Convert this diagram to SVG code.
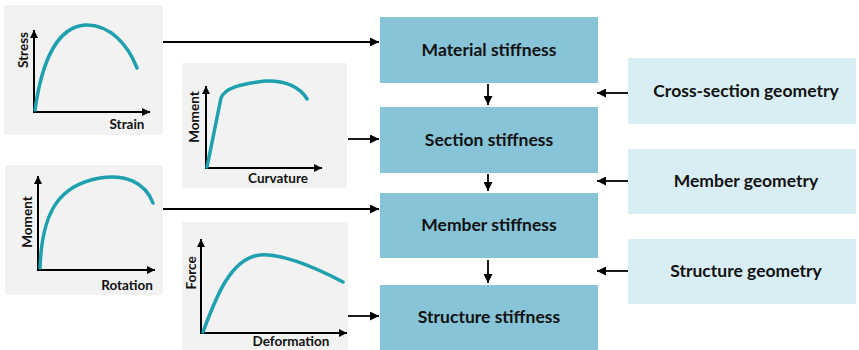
<svg xmlns="http://www.w3.org/2000/svg" width="859" height="350" viewBox="0 0 859 350">
<defs>
<marker id="ah" viewBox="0 0 10 10" refX="10" refY="5" markerWidth="10" markerHeight="9" markerUnits="userSpaceOnUse" orient="auto"><path d="M0,0 L10,5 L0,10 Z" fill="#000"/></marker>
<marker id="ax" viewBox="0 0 10 10" refX="10" refY="5" markerWidth="10" markerHeight="8" markerUnits="userSpaceOnUse" orient="auto"><path d="M0,0 L10,5 L0,10 Z" fill="#000"/></marker>
</defs>
<style>
.panel{fill:#f2f2f2}
.axis{stroke:#000;stroke-width:2;fill:none}
.curve{stroke:#1ea0ae;stroke-width:3.5;fill:none;stroke-linecap:round}
.al{font-family:Lato,"Open Sans",sans-serif;font-weight:700;font-size:13.5px;fill:#111}
.main{fill:#88c4d7}
.light{fill:#d9eef4}
.bt{font-family:Lato,"Open Sans",sans-serif;font-weight:700;font-size:17.5px;fill:#111;text-anchor:middle}
.con{stroke:#000;stroke-width:1.8;fill:none}
</style>
<g id="chart-stress-strain">
<rect class="panel" x="4" y="5" width="159" height="130"/>
<line class="axis" x1="34" y1="112" x2="34" y2="30" marker-end="url(#ax)"/>
<line class="axis" x1="33" y1="112" x2="150" y2="112" marker-end="url(#ax)"/>
<path class="curve" d="M35,110 C42,60 58,27 85,25 C110,24 128,45 137,68"/>
<text class="al" transform="translate(28,50) rotate(-90)" text-anchor="middle">Stress</text>
<text class="al" x="127" y="129" text-anchor="middle">Strain</text>
</g>
<g id="chart-moment-curvature">
<rect class="panel" x="182" y="63" width="165" height="125"/>
<line class="axis" x1="206" y1="169" x2="206" y2="86" marker-end="url(#ax)"/>
<line class="axis" x1="205" y1="168" x2="322" y2="168" marker-end="url(#ax)"/>
<path class="curve" d="M207,167 L221,98 C225,88 240,84 265,81 C285,80 300,87 307,99"/>
<text class="al" transform="translate(199,117) rotate(-90)" text-anchor="middle">Moment</text>
<text class="al" x="278" y="183" text-anchor="middle">Curvature</text>
</g>
<g id="chart-moment-rotation">
<rect class="panel" x="5" y="165" width="158" height="130"/>
<line class="axis" x1="38" y1="271" x2="38" y2="176" marker-end="url(#ax)"/>
<line class="axis" x1="37" y1="270" x2="155" y2="270" marker-end="url(#ax)"/>
<path class="curve" d="M40,268 C42,210 60,185 100,178 C125,174 145,182 153,203"/>
<text class="al" transform="translate(32,222) rotate(-90)" text-anchor="middle">Moment</text>
<text class="al" x="127" y="290" text-anchor="middle">Rotation</text>
</g>
<g id="chart-force-deformation">
<rect class="panel" x="182" y="222" width="166" height="128"/>
<line class="axis" x1="201" y1="334" x2="201" y2="239" marker-end="url(#ax)"/>
<line class="axis" x1="200" y1="333" x2="347" y2="333" marker-end="url(#ax)"/>
<path class="curve" d="M203,332 C215,300 230,258 260,255 C285,253 320,270 343,282"/>
<text class="al" transform="translate(196,273) rotate(-90)" text-anchor="middle">Force</text>
<text class="al" x="291" y="346" text-anchor="middle">Deformation</text>
</g>
<g id="material-stiffness">
<rect class="main" x="380" y="17" width="218" height="66"/>
<text class="bt" x="489" y="56">Material stiffness</text>
</g>
<g id="section-stiffness">
<rect class="main" x="380" y="107" width="218" height="66"/>
<text class="bt" x="489" y="146">Section stiffness</text>
</g>
<g id="member-stiffness">
<rect class="main" x="380" y="193" width="218" height="65"/>
<text class="bt" x="489" y="231">Member stiffness</text>
</g>
<g id="structure-stiffness">
<rect class="main" x="380" y="285" width="218" height="70"/>
<text class="bt" x="489" y="323">Structure stiffness</text>
</g>
<g id="cross-section-geometry">
<rect class="light" x="628" y="58" width="228" height="66"/>
<text class="bt" x="746" y="97">Cross-section geometry</text>
</g>
<g id="member-geometry">
<rect class="light" x="628" y="149" width="228" height="65"/>
<text class="bt" x="746" y="187">Member geometry</text>
</g>
<g id="structure-geometry">
<rect class="light" x="628" y="239" width="228" height="65"/>
<text class="bt" x="746" y="277">Structure geometry</text>
</g>
<g id="connectors">
<line class="con" x1="163" y1="42" x2="379" y2="42" marker-end="url(#ah)"/>
<line class="con" x1="348" y1="139" x2="379" y2="139" marker-end="url(#ah)"/>
<line class="con" x1="163" y1="209" x2="379" y2="209" marker-end="url(#ah)"/>
<line class="con" x1="348" y1="316" x2="379" y2="316" marker-end="url(#ah)"/>
<line class="con" x1="488" y1="84" x2="488" y2="105" marker-end="url(#ah)"/>
<line class="con" x1="488" y1="174" x2="488" y2="191" marker-end="url(#ah)"/>
<line class="con" x1="488" y1="260" x2="488" y2="283" marker-end="url(#ah)"/>
<line class="con" x1="628" y1="93" x2="597" y2="93" marker-end="url(#ah)"/>
<line class="con" x1="628" y1="181" x2="597" y2="181" marker-end="url(#ah)"/>
<line class="con" x1="628" y1="271" x2="597" y2="271" marker-end="url(#ah)"/>
</g>
</svg>
